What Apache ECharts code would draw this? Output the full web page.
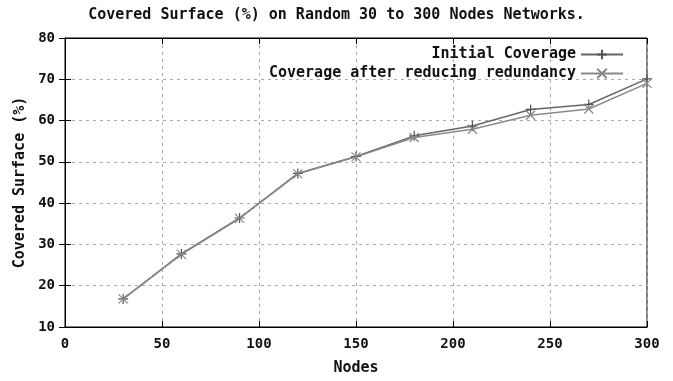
<!DOCTYPE html>
<html><head><meta charset="utf-8">
<script src="https://cdn.jsdelivr.net/npm/echarts@6/dist/echarts.min.js"></script>
<style>html,body{margin:0;padding:0;background:#fff}#c{width:673px;height:381px}</style>
</head><body><div id="c"></div>
<script>
const nodes = [30, 60, 90, 120, 150, 180, 210, 240, 270, 300];
const initialCoverage = [16.8, 27.7, 36.4, 47.2, 51.3, 56.3, 58.7, 62.7, 63.9, 70.1];
const reducedCoverage = [16.8, 27.6, 36.3, 47.1, 51.2, 55.9, 57.9, 61.3, 62.8, 69.0];
const xTicks = [0, 50, 100, 150, 200, 250, 300];
const yTicks = [10, 20, 30, 40, 50, 60, 70, 80];

const F = '"DejaVu Sans Mono", "Liberation Mono", monospace';
const chart = echarts.init(document.getElementById('c'));
const plusPath = 'path://M0,5L10,5M5,0L5,10';
const crossPath = 'path://M0,0L10,10M10,0L0,10';
const lbl = {fontFamily: F, fontWeight: 'bold', fontSize: 14, color: '#111'};
const big = {fontFamily: F, fontWeight: 'bold', fontSize: 15, color: '#111'};
chart.setOption({
  animation: false,
  backgroundColor: '#fff',
  title: {text: 'Covered Surface (%) on Random 30 to 300 Nodes Networks.', left: 'center', top: 3,
    textStyle: big},
  grid: {left: 65, right: 26, top: 38, bottom: 54, show: true, borderColor: '#000', borderWidth: 1},
  legend: {
    orient: 'vertical', right: 44, top: 42, align: 'right', itemGap: 4,
    itemWidth: 42, itemHeight: 12,
    textStyle: big,
    data: ['Initial Coverage', 'Coverage after reducing redundancy']
  },
  xAxis: [{
    type: 'value', min: 0, max: 300, interval: 50,
    name: 'Nodes', nameLocation: 'middle', nameGap: 34, nameTextStyle: big,
    axisLine: {show: true, lineStyle: {color: '#000'}},
    axisTick: {inside: true, length: 6, lineStyle: {color: '#000'}},
    axisLabel: Object.assign({margin: 10, formatter: v => xTicks.includes(v) ? String(v) : ''}, lbl),
    splitLine: {show: true, lineStyle: {type: [3, 4], color: '#aaa'}}
  }, {
    type: 'value', position: 'top', min: 0, max: 300, interval: 50,
    axisLine: {show: true, lineStyle: {color: '#000'}},
    axisTick: {inside: true, length: 6, lineStyle: {color: '#000'}},
    axisLabel: {show: false}, splitLine: {show: false}
  }],
  yAxis: [{
    type: 'value', min: 10, max: 80, interval: 10,
    name: 'Covered Surface (%)', nameLocation: 'middle', nameGap: 36, nameRotate: 90, nameTextStyle: big,
    axisLine: {show: true, lineStyle: {color: '#000'}},
    axisTick: {inside: true, length: 6, lineStyle: {color: '#000'}},
    axisLabel: Object.assign({margin: 10, formatter: v => yTicks.includes(v) ? String(v) : ''}, lbl),
    splitLine: {show: true, lineStyle: {type: [3, 4], color: '#aaa'}}
  }, {
    type: 'value', position: 'right', min: 10, max: 80, interval: 10,
    axisLine: {show: true, lineStyle: {color: '#000'}},
    axisTick: {inside: true, length: 6, lineStyle: {color: '#000'}},
    axisLabel: {show: false}, splitLine: {show: false}
  }],
  series: [{
    name: 'Initial Coverage', type: 'line',
    data: nodes.map((n, i) => [n, initialCoverage[i]]),
    symbol: plusPath, symbolSize: 10, showSymbol: true,
    lineStyle: {color: '#666', width: 1.5},
    itemStyle: {color: '#555', borderColor: '#555', borderWidth: 1.2}
  }, {
    name: 'Coverage after reducing redundancy', type: 'line',
    data: nodes.map((n, i) => [n, reducedCoverage[i]]),
    symbol: crossPath, symbolSize: 9, showSymbol: true,
    lineStyle: {color: '#8a8a8a', width: 1.5},
    itemStyle: {color: '#888', borderColor: '#888', borderWidth: 1.2}
  }]
});
</script></body></html>
